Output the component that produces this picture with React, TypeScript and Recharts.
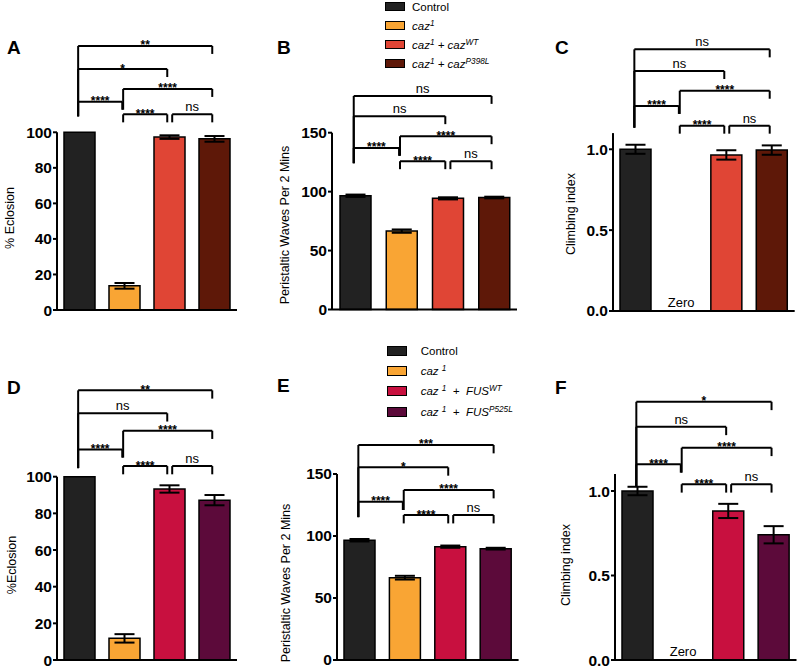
import { Bar, BarChart, Cell, ErrorBar, ReferenceDot, ReferenceLine, XAxis, YAxis } from 'recharts'

// groups: Control, caz1, caz1 + rescue (WT), caz1 + rescue (mutant)
const groupIndex = [0, 1, 2, 3]

const cazColors = ['#222222', '#f9a534', '#e04535', '#5e1808']
const fusColors = ['#222222', '#f9a534', '#c8103f', '#5c0a3a']

// top row: caz rescue
const eclosionCaz = [100, 13.6, 97.3, 96.3]
const eclosionCazErr = [0, 1.6, 1, 1.6]
const wavesCaz = [96.5, 66.5, 94.3, 95]
const wavesCazErr = [1, 1.4, 0.9, 0.7]
const climbCaz = [1.0, 0, 0.965, 0.995]
const climbCazErr = [0.028, 0, 0.029, 0.029]

// bottom row: FUS rescue
const eclosionFus = [100, 11.8, 93.3, 87.2]
const eclosionFusErr = [0, 2.3, 2, 2.8]
const wavesFus = [96.6, 66.4, 91.4, 89.8]
const wavesFusErr = [1, 1.5, 0.9, 0.7]
const climbFus = [1.0, 0, 0.882, 0.741]
const climbFusErr = [0.025, 0, 0.042, 0.051]

// pairwise comparisons, outermost first
const comparisons = [
  [0, 3],
  [0, 2],
  [1, 3],
  [0, 1],
  [1, 2],
  [2, 3],
]

const sigA = ['**', '*', '****', '****', '****', 'ns']
const sigB = ['ns', 'ns', '****', '****', '****', 'ns']
const sigC = ['ns', 'ns', '****', '****', '****', 'ns']
const sigD = ['**', 'ns', '****', '****', '****', 'ns']
const sigE = ['***', '*', '****', '****', '****', 'ns']
const sigF = ['*', 'ns', '****', '****', '****', 'ns']

// bracket heights in data units
const levelsA = [148.6, 135.6, 124.4, 117.2, 110.1, 110.1]
const levelsB = [181.2, 164.0, 147.0, 137.1, 125.8, 125.8]
const levelsC = [1.618, 1.484, 1.362, 1.268, 1.146, 1.146]
const levelsD = [147.1, 134.6, 125.1, 114.9, 105.8, 105.8]
const levelsE = [173.4, 155.4, 137.1, 127.7, 116.9, 116.9]
const levelsF = [1.528, 1.38, 1.256, 1.158, 1.04, 1.04]

const eclosionTicks = [0, 20, 40, 60, 80, 100]
const wavesTicks = [0, 50, 100, 150]
const climbTicks = [0, 0.5, 1.0]

const FONT = '"Liberation Sans", Arial, Helvetica, sans-serif'

const rows = (vals: number[], errs: number[]) => groupIndex.map((i) => ({ x: i, v: vals[i], err: errs[i] }))

type PanelProps = {
  left: number
  right: number
  top: number
  bottom: number
  rowTop: number
  vals: number[]
  errs: number[]
  colors: string[]
  yMax: number
  ticks: number[]
  levels: number[]
  labels: string[]
  decimals?: boolean
  zero?: boolean
}

function Panel({ left, right, top, bottom, rowTop, vals, errs, colors, yMax, ticks, levels, labels, decimals, zero }: PanelProps) {
  const yw = 50
  const xh = 4
  const width = yw + (right - left) + 3
  const height = bottom - rowTop + xh + 12
  const drop = yMax * 0.045
  const base = Math.min(...levels) - drop * 0.25
  const line = { stroke: '#000', strokeWidth: 2 }

  return (
    <div style={{ position: 'absolute', left: left - yw, top: rowTop }}>
      <BarChart
        width={width}
        height={height}
        data={rows(vals, errs)}
        margin={{ top: top - rowTop, right: 3, bottom: 12, left: 0 }}
        style={{ overflow: 'visible' }}
      >
        <XAxis
          type="number"
          dataKey="x"
          domain={[-0.5, 3.5]}
          ticks={groupIndex}
          tick={false}
          tickLine={false}
          height={xh}
          axisLine={line}
        />
        <YAxis
          domain={[0, yMax]}
          ticks={ticks}
          interval={0}
          width={yw}
          tickSize={4}
          tickMargin={1}
          tickLine={line}
          axisLine={line}
          tickFormatter={(v: number) => (decimals ? v.toFixed(1) : String(v))}
          tick={{ fill: '#000', fontSize: 15.5, fontWeight: 'bold', fontFamily: FONT }}
        />
        <Bar dataKey="v" barSize={31} stroke="#000" strokeWidth={1.5} isAnimationActive={false}>
          {groupIndex.map((i) => (
            <Cell key={i} fill={colors[i]} />
          ))}
          <ErrorBar dataKey="err" width={10} strokeWidth={2} stroke="#000" direction="y" />
        </Bar>
        {zero && (
          <ReferenceDot
            x={1}
            y={0}
            r={0}
            fillOpacity={0}
            stroke="none"
            ifOverflow="visible"
            label={{ value: 'Zero', position: 'top', offset: 4, fontSize: 13, fill: '#000', fontFamily: FONT }}
          />
        )}
        {comparisons.map(([i, j], k) => {
          const y = levels[k]
          const x1 = i === 2 ? i + 0.06 : i - 0.03
          const x2 = j - 0.05
          const isNs = labels[k] === 'ns'
          const leftEnd = i === 0 ? base : i === 1 && j === 3 ? levels[3] - drop : y - drop
          return [
            <ReferenceLine
              key={`h${k}`}
              segment={[
                { x: x1, y },
                { x: x2, y },
              ]}
              ifOverflow="visible"
              {...line}
              label={{
                value: labels[k],
                position: 'top',
                offset: isNs ? 3 : -3.5,
                fontSize: isNs ? 13 : 12,
                fontWeight: isNs ? 'normal' : 'bold',
                fill: '#000',
                fontFamily: FONT,
              }}
            />,
            <ReferenceLine
              key={`l${k}`}
              segment={[
                { x: x1, y },
                { x: x1, y: leftEnd },
              ]}
              ifOverflow="visible"
              {...line}
            />,
            <ReferenceLine
              key={`r${k}`}
              segment={[
                { x: x2, y },
                { x: x2, y: y - drop },
              ]}
              ifOverflow="visible"
              {...line}
            />,
          ]
        })}
      </BarChart>
    </div>
  )
}

function Letter({ x, y, text }: { x: number; y: number; text: string }) {
  return (
    <div style={{ position: 'absolute', left: x, top: y, fontSize: 19, fontWeight: 'bold', lineHeight: 1 }}>{text}</div>
  )
}

function YLabel({ x, y, text }: { x: number; y: number; text: string }) {
  return (
    <div
      style={{
        position: 'absolute',
        left: x,
        top: y,
        fontSize: 12.5,
        lineHeight: 1,
        whiteSpace: 'nowrap',
        transform: 'translate(-50%, -50%) rotate(-90deg)',
      }}
    >
      {text}
    </div>
  )
}

const sup = { fontSize: '0.72em', lineHeight: 0, verticalAlign: '0.5em' }

const cazLegend = [
  <span>Control</span>,
  <i>
    caz<sup style={sup}>1</sup>
  </i>,
  <i>
    caz<sup style={sup}>1</sup> + caz<sup style={sup}>WT</sup>
  </i>,
  <i>
    caz<sup style={sup}>1</sup> + caz<sup style={sup}>P398L</sup>
  </i>,
]

const fusLegend = [
  <span>Control</span>,
  <i>
    caz <sup style={sup}>1</sup>
  </i>,
  <i>
    caz <sup style={sup}>1</sup> &nbsp;+&nbsp; FUS<sup style={sup}>WT</sup>
  </i>,
  <i>
    caz <sup style={sup}>1</sup> &nbsp;+&nbsp; FUS<sup style={sup}>P525L</sup>
  </i>,
]

function Legend({
  x,
  y,
  step,
  boxW,
  boxH,
  textX,
  colors,
  items,
}: {
  x: number
  y: number
  step: number
  boxW: number
  boxH: number
  textX: number
  colors: string[]
  items: JSX.Element[]
}) {
  return (
    <>
      {items.map((item, i) => (
        <div key={i}>
          <div
            style={{
              position: 'absolute',
              left: x,
              top: y + i * step - boxH / 2,
              width: boxW - 2,
              height: boxH - 2,
              background: colors[i],
              border: '1px solid #000',
            }}
          />
          <div
            style={{
              position: 'absolute',
              left: textX,
              top: y + i * step - 8,
              height: 16,
              display: 'flex',
              alignItems: 'center',
              fontSize: 11.5,
              whiteSpace: 'nowrap',
            }}
          >
            {item}
          </div>
        </div>
      ))}
    </>
  )
}

export default function App() {
  return (
    <div
      style={{
        position: 'absolute',
        left: 0,
        top: 0,
        width: 800,
        height: 668,
        background: '#fff',
        fontFamily: FONT,
        color: '#000',
        overflow: 'hidden',
      }}
    >
      <Panel left={57} right={237} top={132.3} bottom={310} rowTop={0} vals={eclosionCaz} errs={eclosionCazErr} colors={cazColors} yMax={100} ticks={eclosionTicks} levels={levelsA} labels={sigA} />
      <Panel left={331.7} right={516.7} top={132.7} bottom={309.5} rowTop={0} vals={wavesCaz} errs={wavesCazErr} colors={cazColors} yMax={150} ticks={wavesTicks} levels={levelsB} labels={sigB} />
      <Panel left={613.3} right={795} top={133.1} bottom={311} rowTop={0} vals={climbCaz} errs={climbCazErr} colors={cazColors} yMax={1.1} ticks={climbTicks} levels={levelsC} labels={sigC} decimals zero />
      <Panel left={57} right={237} top={476.7} bottom={660} rowTop={340} vals={eclosionFus} errs={eclosionFusErr} colors={fusColors} yMax={100} ticks={eclosionTicks} levels={levelsD} labels={sigD} />
      <Panel left={336.7} right={518.3} top={474} bottom={660} rowTop={340} vals={wavesFus} errs={wavesFusErr} colors={fusColors} yMax={150} ticks={wavesTicks} levels={levelsE} labels={sigE} />
      <Panel left={615} right={796.5} top={474.1} bottom={660} rowTop={340} vals={climbFus} errs={climbFusErr} colors={fusColors} yMax={1.1} ticks={climbTicks} levels={levelsF} labels={sigF} decimals zero />

      <Letter x={7} y={37.5} text="A" />
      <Letter x={277} y={37.5} text="B" />
      <Letter x={555} y={37.5} text="C" />
      <Letter x={7} y={377.5} text="D" />
      <Letter x={277} y={376} text="E" />
      <Letter x={555} y={377.5} text="F" />

      <YLabel x={10} y={217.5} text="% Eclosion" />
      <YLabel x={285} y={225} text="Peristaltic Waves Per 2 Mins" />
      <YLabel x={571} y={214} text="Climbing index" />
      <YLabel x={12} y={565} text="%Eclosion" />
      <YLabel x={286} y={583} text="Peristaltic Waves Per 2 Mins" />
      <YLabel x={566} y={565} text="Climbing index" />

      <Legend x={385} y={6.5} step={19} boxW={20} boxH={9} textX={412} colors={cazColors} items={cazLegend} />
      <Legend x={386.7} y={350.7} step={20.3} boxW={20.5} boxH={10} textX={420.7} colors={fusColors} items={fusLegend} />
    </div>
  )
}
